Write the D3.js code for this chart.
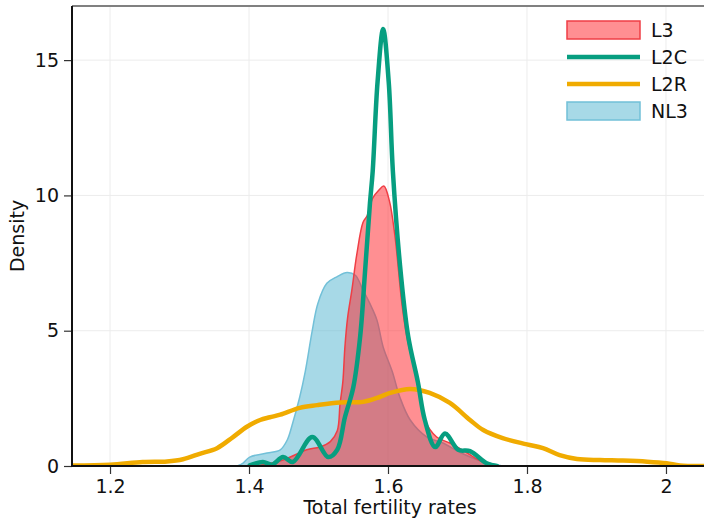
<!DOCTYPE html>
<html>
<head>
<meta charset="utf-8">
<script src="https://cdn.jsdelivr.net/npm/d3@7"></script>
<style>
  body { margin: 0; background: #fff; }
  svg text { font-family: "DejaVu Sans", sans-serif; }
</style>
</head>
<body>
<svg id="chart" width="704" height="519"></svg>
<script>
// ---- data ----
const seriesNames = ["L3", "L2C", "L2R", "NL3"];
const xTicks = [1.2, 1.4, 1.6, 1.8, 2.0];
const xTickLabels = ["1.2", "1.4", "1.6", "1.8", "2"];
const yTicks = [0, 5, 10, 15];
const yTickLabels = ["0", "5", "10", "15"];

const L3 = [
  [1.401, 0], [1.420, 0.05], [1.449, 0.22], [1.483, 0.6], [1.502, 0.7], [1.517, 0.9],
  [1.527, 1.3], [1.531, 2.3], [1.535, 3.1], [1.538, 4.4], [1.542, 5.5], [1.548, 6.5],
  [1.555, 7.8], [1.564, 9.0], [1.570, 9.25], [1.578, 9.9], [1.587, 10.2], [1.594, 10.35],
  [1.602, 9.8], [1.610, 8.5], [1.620, 6.0], [1.627, 4.8], [1.642, 3.1], [1.653, 1.7],
  [1.670, 1.07], [1.689, 0.85], [1.714, 0.48], [1.732, 0.2], [1.751, 0]
];
const L2C = [
  [1.401, 0.02], [1.420, 0.15], [1.433, 0.05], [1.449, 0.33], [1.463, 0.15], [1.491, 1.07],
  [1.514, 0.33], [1.527, 0.6], [1.538, 1.8], [1.550, 2.9], [1.560, 4.8], [1.567, 7.2],
  [1.574, 9.7], [1.578, 10.9], [1.585, 14.2], [1.593, 16.15], [1.601, 14.2], [1.607, 10.9],
  [1.617, 7.5], [1.629, 4.8], [1.643, 3.1], [1.653, 1.7], [1.668, 0.7], [1.682, 1.2],
  [1.701, 0.6], [1.718, 0.55], [1.742, 0.1], [1.757, 0]
];
const L2R = [
  [1.145, 0.02], [1.200, 0.05], [1.247, 0.15], [1.282, 0.17], [1.305, 0.25], [1.329, 0.45],
  [1.354, 0.66], [1.377, 1.07], [1.397, 1.45], [1.416, 1.7], [1.430, 1.8], [1.445, 1.9],
  [1.473, 2.15], [1.498, 2.25], [1.531, 2.35], [1.564, 2.37], [1.588, 2.55], [1.603, 2.7],
  [1.632, 2.85], [1.660, 2.7], [1.689, 2.33], [1.718, 1.7], [1.737, 1.33], [1.765, 1.03],
  [1.800, 0.8], [1.823, 0.66], [1.847, 0.4], [1.872, 0.26], [1.905, 0.22], [1.938, 0.2],
  [1.973, 0.16], [2.001, 0.1], [2.020, 0.02], [2.055, 0.0]
];
const NL3 = [
  [1.383, 0], [1.391, 0.1], [1.401, 0.33], [1.426, 0.48], [1.445, 0.6], [1.455, 0.96],
  [1.463, 1.6], [1.473, 2.55], [1.481, 3.5], [1.491, 5.0], [1.499, 6.0], [1.512, 6.75],
  [1.527, 7.0], [1.541, 7.15], [1.553, 7.05], [1.564, 6.5], [1.574, 6.0], [1.584, 5.4],
  [1.593, 4.4], [1.606, 3.5], [1.617, 2.55], [1.632, 1.7], [1.656, 1.07], [1.679, 0.85],
  [1.704, 0.5], [1.732, 0.2], [1.765, 0]
];

// ---- layout ----
const svg = d3.select("#chart");
const m = { left: 72, top: 6, right: 704, bottom: 466 };
const x = d3.scaleLinear().domain([1.1453, 2.0547]).range([m.left, m.right]);
const y = d3.scaleLinear().domain([0, 17]).range([m.bottom, m.top]);

const FS = 19;

// gridlines
const grid = svg.append("g");
grid.selectAll("line.gx").data(xTicks).join("line")
  .attr("x1", d => x(d)).attr("x2", d => x(d))
  .attr("y1", m.top).attr("y2", m.bottom)
  .attr("stroke", "#ececec").attr("stroke-width", 1);
grid.selectAll("line.gy").data(yTicks.filter(d => d > 0)).join("line")
  .attr("x1", m.left).attr("x2", m.right)
  .attr("y1", d => y(d)).attr("y2", d => y(d))
  .attr("stroke", "#ececec").attr("stroke-width", 1);

// clip
svg.append("clipPath").attr("id", "clip").append("rect")
  .attr("x", m.left).attr("y", m.top)
  .attr("width", m.right - m.left).attr("height", m.bottom - m.top);

const plot = svg.append("g").attr("clip-path", "url(#clip)");
const curve = d3.curveCatmullRom.alpha(0.5);
const area = d3.area().x(d => x(d[0])).y0(y(0)).y1(d => y(d[1])).curve(curve);
const line = d3.line().x(d => x(d[0])).y(d => y(d[1])).curve(curve);

const styles = {
  NL3: { fill: "rgba(79,179,208,0.5)", stroke: "#72c0d8" },
  L3: { fill: "rgba(255,31,37,0.5)", stroke: "#ef3e45" },
  L2R: { stroke: "#f0ab00" },
  L2C: { stroke: "#079e80" }
};

plot.append("path").datum(NL3).attr("d", area)
  .attr("fill", styles.NL3.fill).attr("stroke", styles.NL3.stroke).attr("stroke-width", 1.5);
plot.append("path").datum(L3).attr("d", area)
  .attr("fill", styles.L3.fill).attr("stroke", styles.L3.stroke).attr("stroke-width", 1.5);
plot.append("path").datum(L2R).attr("d", line)
  .attr("fill", "none").attr("stroke", styles.L2R.stroke).attr("stroke-width", 4.5)
  .attr("stroke-linejoin", "round").attr("stroke-linecap", "round");
plot.append("path").datum(L2C).attr("d", line)
  .attr("fill", "none").attr("stroke", styles.L2C.stroke).attr("stroke-width", 4.5)
  .attr("stroke-linejoin", "round").attr("stroke-linecap", "round");

// axes
const xAxis = d3.axisBottom(x).tickValues(xTicks).tickSize(8).tickPadding(6)
  .tickFormat((d, i) => xTickLabels[i]);
const gx = svg.append("g").attr("transform", `translate(0,${m.bottom})`).call(xAxis);
gx.select(".domain").remove();
gx.selectAll(".tick line").attr("stroke", "#333").attr("stroke-width", 1.2);
gx.selectAll(".tick text").attr("font-size", FS).attr("fill", "#111")
  .attr("font-family", "DejaVu Sans, sans-serif");

const yAxis = d3.axisLeft(y).tickValues(yTicks).tickSize(8).tickPadding(5)
  .tickFormat((d, i) => yTickLabels[i]);
const gy = svg.append("g").attr("transform", `translate(${m.left},0)`).call(yAxis);
gy.select(".domain").remove();
gy.selectAll(".tick line").attr("stroke", "#333").attr("stroke-width", 1.2);
gy.selectAll(".tick text").attr("font-size", FS).attr("fill", "#111")
  .attr("font-family", "DejaVu Sans, sans-serif");

// spines
svg.append("line").attr("x1", m.left).attr("x2", m.right).attr("y1", m.top).attr("y2", m.top)
  .attr("stroke", "#808080").attr("stroke-width", 2);
svg.append("line").attr("x1", m.left).attr("x2", m.left).attr("y1", m.top).attr("y2", m.bottom)
  .attr("stroke", "#111").attr("stroke-width", 2);
svg.append("line").attr("x1", m.left - 1).attr("x2", m.right).attr("y1", m.bottom).attr("y2", m.bottom)
  .attr("stroke", "#111").attr("stroke-width", 2);

// axis labels
svg.append("text").attr("x", 390).attr("y", 514).attr("text-anchor", "middle")
  .attr("font-size", FS).attr("fill", "#111").text("Total fertility rates");
svg.append("text").attr("transform", "translate(24,236) rotate(-90)").attr("text-anchor", "middle")
  .attr("font-size", FS).attr("fill", "#111").text("Density");

// legend
const legend = svg.append("g");
const legY = [30, 57, 84, 111];
seriesNames.forEach((name, i) => {
  const s = styles[name];
  const cy = legY[i];
  if (name === "L3" || name === "NL3") {
    legend.append("rect").attr("x", 567).attr("y", cy - 9).attr("width", 73).attr("height", 18)
      .attr("fill", s.fill).attr("stroke", s.stroke).attr("stroke-width", 1.5);
  } else {
    legend.append("line").attr("x1", 567).attr("x2", 640).attr("y1", cy).attr("y2", cy)
      .attr("stroke", s.stroke).attr("stroke-width", 4.5);
  }
  legend.append("text").attr("x", 651).attr("y", cy).attr("dy", "0.36em")
    .attr("font-size", FS).attr("fill", "#111").text(name);
});
</script>
</body>
</html>
